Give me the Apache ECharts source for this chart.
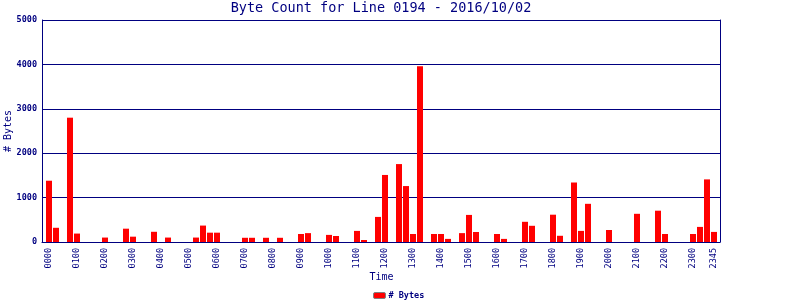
<!DOCTYPE html>
<html>
<head>
<meta charset="utf-8">
<script src="https://cdn.jsdelivr.net/npm/echarts@6/dist/echarts.min.js"></script>
<style>
html,body{margin:0;padding:0;background:#fff;}
#chart{width:800px;height:300px;}
</style>
</head>
<body>
<div id="chart"></div>
<script>
const titleText = 'Byte Count for Line 0194 - 2016/10/02';
const seriesName = '# Bytes';
const xAxisName = 'Time';
const yAxisName = '# Bytes';
const yTicks = [0, 1000, 2000, 3000, 4000, 5000];

// 15-minute time slots 0000 .. 2345
const categories = [
  '0000','0015','0030','0045','0100','0115','0130','0145',
  '0200','0215','0230','0245','0300','0315','0330','0345',
  '0400','0415','0430','0445','0500','0515','0530','0545',
  '0600','0615','0630','0645','0700','0715','0730','0745',
  '0800','0815','0830','0845','0900','0915','0930','0945',
  '1000','1015','1030','1045','1100','1115','1130','1145',
  '1200','1215','1230','1245','1300','1315','1330','1345',
  '1400','1415','1430','1445','1500','1515','1530','1545',
  '1600','1615','1630','1645','1700','1715','1730','1745',
  '1800','1815','1830','1845','1900','1915','1930','1945',
  '2000','2015','2030','2045','2100','2115','2130','2145',
  '2200','2215','2230','2245','2300','2315','2330','2345'
];
const byteCounts = [
  1380, 320, 0, 2800, 190, 0, 0, 0,
  100, 0, 0, 300, 120, 0, 0, 230,
  0, 100, 0, 0, 0, 100, 370, 210,
  210, 0, 0, 0, 95, 95, 0, 95,
  0, 95, 0, 0, 180, 200, 0, 0,
  160, 135, 0, 0, 250, 45, 0, 565,
  1510, 0, 1755, 1260, 180, 3960, 0, 180,
  180, 70, 0, 200, 610, 225, 0, 0,
  180, 70, 0, 0, 455, 365, 0, 0,
  615, 140, 0, 1340, 250, 860, 0, 0,
  270, 0, 0, 0, 635, 0, 0, 705,
  180, 0, 0, 0, 180, 340, 1410, 227
];
const shownLabels = ['0000','0100','0200','0300','0400','0500','0600','0700','0800','0900','1000','1100',
  '1200','1300','1400','1500','1600','1700','1800','1900','2000','2100','2200','2300','2345'];

const NAVY = '#000080';
const MONO = '"DejaVu Sans Mono", "Liberation Mono", monospace';
const yMin = yTicks[0], yMax = yTicks[yTicks.length - 1], yStep = yTicks[1] - yTicks[0];

const chart = echarts.init(document.getElementById('chart'), null, {renderer: 'canvas'});
chart.setOption({
  animation: false,
  backgroundColor: '#ffffff',
  title: {
    text: titleText,
    left: 381, top: 1, textAlign: 'center', padding: 0,
    textStyle: {color: NAVY, fontFamily: MONO, fontSize: 13.5, fontWeight: 'normal'}
  },
  legend: {
    data: [seriesName],
    left: 373, top: 291, padding: 0,
    itemWidth: 12, itemHeight: 6,
    itemStyle: {borderColor: '#808080', borderWidth: 1},
    textStyle: {color: NAVY, fontFamily: MONO, fontSize: 8.5, fontWeight: 'bold', padding: [0, 0, 0, -2]}
  },
  grid: [
    {left: 42, top: 20, width: 678, height: 222, containLabel: false, outerBoundsMode: 'none'},
    {left: 45.5, top: 20, width: 672, height: 222, containLabel: false, outerBoundsMode: 'none'}
  ],
  xAxis: [
    {
      gridIndex: 0, type: 'value', min: 0, max: 1, show: true,
      axisLine: {show: true, onZero: false, lineStyle: {color: NAVY, width: 1}},
      axisTick: {show: false}, axisLabel: {show: false}, splitLine: {show: false}
    },
    {
      gridIndex: 1, type: 'category', data: categories, boundaryGap: true,
      name: xAxisName, nameLocation: 'middle', nameGap: 30, nameMoveOverlap: false,
      nameTextStyle: {color: NAVY, fontFamily: MONO, fontSize: 10},
      axisLine: {show: false}, axisTick: {show: false},
      axisLabel: {
        rotate: 90, margin: 6, color: NAVY, fontFamily: MONO, fontSize: 8.5,
        interval: function (i, v) { return shownLabels.indexOf(v) >= 0; }
      },
      splitLine: {show: false}
    }
  ],
  yAxis: [
    {
      gridIndex: 0, type: 'value', min: yMin, max: yMax, interval: yStep,
      name: yAxisName, nameLocation: 'middle', nameGap: 34, nameRotate: 90, nameMoveOverlap: false,
      nameTextStyle: {color: NAVY, fontFamily: MONO, fontSize: 10, verticalAlign: 'middle'},
      axisLine: {show: true, lineStyle: {color: NAVY, width: 1}},
      axisTick: {show: false},
      axisLabel: {margin: 5, color: NAVY, fontFamily: MONO, fontSize: 8.5, fontWeight: 'bold',
        formatter: function (v) { return String(v); }},
      splitLine: {show: true, lineStyle: {color: NAVY, width: 1}}
    },
    {
      gridIndex: 0, type: 'value', min: yMin, max: yMax, position: 'right',
      axisLine: {show: true, lineStyle: {color: NAVY, width: 1}},
      axisTick: {show: false}, axisLabel: {show: false}, splitLine: {show: false}
    },
    {
      gridIndex: 1, type: 'value', min: yMin, max: yMax, show: false
    }
  ],
  series: [{
    name: seriesName,
    type: 'bar',
    xAxisIndex: 1, yAxisIndex: 2,
    data: byteCounts,
    barWidth: 6,
    itemStyle: {color: '#ff0000'}
  }]
});
</script>
</body>
</html>
